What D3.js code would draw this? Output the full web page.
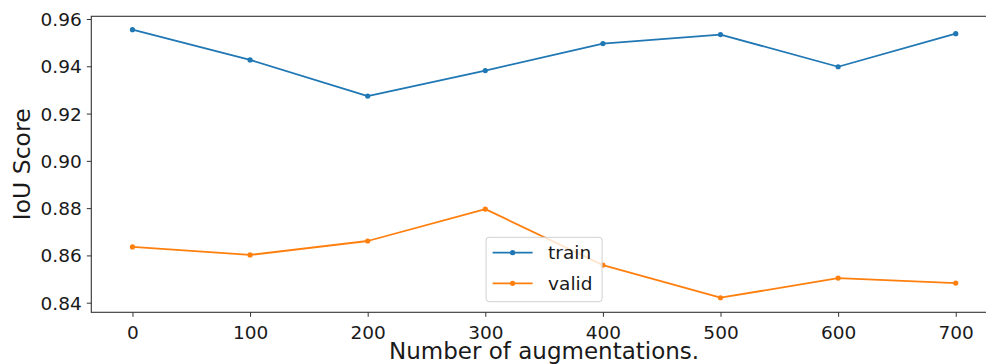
<!DOCTYPE html>
<html>
<head>
<meta charset="utf-8">
<script src="https://cdn.jsdelivr.net/npm/d3@7"></script>
<style>
  body { margin: 0; background: #fff; }
  svg { display: block; font-family: "DejaVu Sans", sans-serif; }
</style>
</head>
<body>
<div id="chart"></div>
<script>
// values
const augmentations = [0, 100, 200, 300, 400, 500, 600, 700];
const trainScores = [0.9555, 0.9427, 0.9274, 0.9382, 0.9496, 0.9534, 0.9398, 0.9538];
const validScores = [0.8636, 0.8602, 0.8661, 0.8796, 0.8559, 0.8421, 0.8504, 0.8483];
const yTicks = [0.84, 0.86, 0.88, 0.90, 0.92, 0.94, 0.96];
const xTicks = [0, 100, 200, 300, 400, 500, 600, 700];
const seriesNames = ["train", "valid"];
const seriesColors = ["#1f77b4", "#ff7f0e"];

let margin = { top: 16.3, left: 91.3, right: -10.9, bottom: 51.7 },
  totalW = 986, totalH = 364,
  width = totalW - margin.left - margin.right,
  height = totalH - margin.top - margin.bottom;

let svg = d3.select("#chart")
  .append("svg")
    .attr("width", totalW)
    .attr("height", totalH);

let g = svg.append("g")
  .attr("transform", "translate(" + margin.left + "," + margin.top + ")");

// matplotlib style 5% padding on x
let xScale = d3.scaleLinear()
  .domain([-35, 735])
  .range([0, width]);

let yScale = d3.scaleLinear()
  .domain([0.83594, 0.96114])
  .range([height, 0]);

// X axis
let xAxis = g.append("g")
  .attr("transform", "translate(0," + height + ")")
  .call(d3.axisBottom(xScale).tickValues(xTicks).tickSize(4.5).tickPadding(5).tickFormat(d3.format("d")));

// Y axis
let yAxis = g.append("g")
  .call(d3.axisLeft(yScale).tickValues(yTicks).tickSize(4.5).tickPadding(5).tickFormat(d3.format(".2f")));

[xAxis, yAxis].forEach(ax => {
  ax.select(".domain").remove();
  ax.selectAll(".tick line").attr("stroke", "#333").attr("stroke-width", 1);
  ax.selectAll(".tick text")
    .attr("fill", "#1a1a1a")
    .style("font-size", "18.5px")
    .style("font-family", "DejaVu Sans");
});
xAxis.selectAll(".tick text").attr("dy", "0.92em");
yAxis.selectAll(".tick text").attr("dy", "0.35em");

// spines
g.append("rect")
  .attr("x", 0)
  .attr("y", 0)
  .attr("width", width)
  .attr("height", height)
  .attr("fill", "none")
  .attr("stroke", "#333")
  .attr("stroke-width", 1.1);

// lines
let line = d3.line()
  .x((d, i) => xScale(augmentations[i]))
  .y(d => yScale(d));

[trainScores, validScores].forEach((vals, k) => {
  g.append("path")
    .datum(vals)
    .attr("fill", "none")
    .attr("stroke", seriesColors[k])
    .attr("stroke-width", 1.8)
    .attr("stroke-linejoin", "round")
    .attr("d", line);

  g.append("g")
    .attr("fill", seriesColors[k])
    .selectAll("circle")
    .data(vals)
    .enter().append("circle")
      .attr("cx", (d, i) => xScale(augmentations[i]))
      .attr("cy", d => yScale(d))
      .attr("r", 2.6);
});

// legend, lower center
let legend = g.append("g")
  .attr("transform", "translate(" + (width / 2 - 58) + "," + (height - 75) + ")");

legend.append("rect")
  .attr("x", 0)
  .attr("y", 0)
  .attr("width", 116)
  .attr("height", 64.4)
  .attr("rx", 3)
  .attr("fill", "#fff")
  .attr("fill-opacity", 0.8)
  .attr("stroke", "#d0d0d0")
  .attr("stroke-width", 1);

seriesNames.forEach((name, k) => {
  let yy = 15.4 + k * 30.6;
  legend.append("line")
    .attr("x1", 6.5)
    .attr("x2", 46.5)
    .attr("y1", yy)
    .attr("y2", yy)
    .attr("stroke", seriesColors[k])
    .attr("stroke-width", 1.8);
  legend.append("circle")
    .attr("cx", 26.5)
    .attr("cy", yy)
    .attr("r", 2.6)
    .attr("fill", seriesColors[k]);
  legend.append("text")
    .attr("x", 62)
    .attr("y", yy)
    .attr("dy", "0.35em")
    .attr("fill", "#1a1a1a")
    .style("font-size", "18.5px")
    .text(name);
});

// axis labels
svg.append("text")
  .attr("x", margin.left + width / 2)
  .attr("y", 358.5)
  .attr("text-anchor", "middle")
  .attr("fill", "#1a1a1a")
  .style("font-size", "23px")
  .text("Number of augmentations.");

svg.append("text")
  .attr("transform", "translate(30," + (margin.top + height / 2) + ") rotate(-90)")
  .attr("text-anchor", "middle")
  .attr("fill", "#1a1a1a")
  .style("font-size", "23.5px")
  .text("IoU Score");
</script>
</body>
</html>
